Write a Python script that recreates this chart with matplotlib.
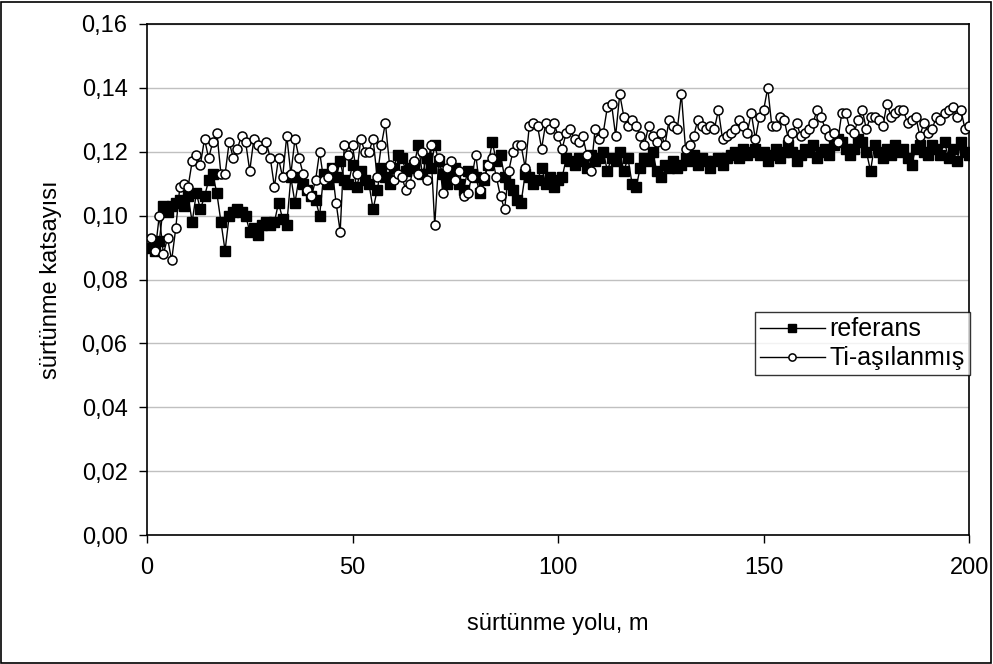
import matplotlib
matplotlib.use("Agg")
import matplotlib.pyplot as plt
from matplotlib.patches import Rectangle
from matplotlib.ticker import FuncFormatter, MultipleLocator

plt.rcParams["font.family"] = ["Liberation Sans", "DejaVu Sans"]

# sliding distance, m
distance = list(range(1, 201))

# friction coefficient, reference sample
referans = [
    0.090, 0.089, 0.092, 0.103, 0.101, 0.103, 0.104, 0.105, 0.103, 0.106,
    0.098, 0.107, 0.102, 0.106, 0.111, 0.113, 0.107, 0.098, 0.089, 0.100,
    0.101, 0.102, 0.101, 0.100, 0.095, 0.096, 0.094, 0.097, 0.098, 0.097,
    0.098, 0.104, 0.099, 0.097, 0.112, 0.104, 0.112, 0.110, 0.108, 0.106,
    0.105, 0.100, 0.113, 0.110, 0.115, 0.112, 0.117, 0.111, 0.110, 0.116,
    0.109, 0.114, 0.111, 0.110, 0.102, 0.108, 0.115, 0.112, 0.110, 0.115,
    0.119, 0.118, 0.114, 0.115, 0.116, 0.122, 0.113, 0.118, 0.115, 0.122,
    0.117, 0.113, 0.110, 0.112, 0.115, 0.110, 0.108, 0.114, 0.113, 0.112,
    0.107, 0.111, 0.116, 0.123, 0.117, 0.119, 0.112, 0.110, 0.108, 0.105,
    0.104, 0.113, 0.112, 0.110, 0.111, 0.115, 0.110, 0.112, 0.109, 0.111,
    0.112, 0.118, 0.117, 0.116, 0.118, 0.117, 0.115, 0.119, 0.117, 0.118,
    0.120, 0.114, 0.118, 0.117, 0.120, 0.114, 0.118, 0.110, 0.109, 0.115,
    0.118, 0.117, 0.120, 0.114, 0.112, 0.116, 0.115, 0.117, 0.115, 0.116,
    0.118, 0.117, 0.119, 0.116, 0.118, 0.117, 0.115, 0.117, 0.118, 0.116,
    0.118, 0.119, 0.120, 0.118, 0.121, 0.119, 0.120, 0.121, 0.119, 0.120,
    0.117, 0.119, 0.121, 0.118, 0.120, 0.122, 0.120, 0.117, 0.119, 0.121,
    0.120, 0.122, 0.118, 0.120, 0.121, 0.119, 0.122, 0.124, 0.123, 0.121,
    0.119, 0.121, 0.124, 0.123, 0.120, 0.114, 0.122, 0.120, 0.118, 0.121,
    0.119, 0.122, 0.120, 0.121, 0.118, 0.116, 0.121, 0.122, 0.120, 0.119,
    0.122, 0.121, 0.119, 0.123, 0.118, 0.121, 0.117, 0.123, 0.120, 0.119,
]

# friction coefficient, Ti-implanted sample
ti_asilanmis = [
    0.093, 0.089, 0.100, 0.088, 0.093, 0.086, 0.096, 0.109, 0.110, 0.109,
    0.117, 0.119, 0.116, 0.124, 0.118, 0.123, 0.126, 0.113, 0.113, 0.123,
    0.118, 0.121, 0.125, 0.123, 0.114, 0.124, 0.122, 0.121, 0.123, 0.118,
    0.109, 0.118, 0.112, 0.125, 0.113, 0.124, 0.118, 0.113, 0.108, 0.106,
    0.111, 0.120, 0.111, 0.112, 0.115, 0.104, 0.095, 0.122, 0.119, 0.122,
    0.113, 0.124, 0.120, 0.120, 0.124, 0.112, 0.122, 0.129, 0.116, 0.111,
    0.113, 0.112, 0.108, 0.110, 0.117, 0.113, 0.120, 0.111, 0.122, 0.097,
    0.118, 0.107, 0.115, 0.117, 0.111, 0.114, 0.106, 0.107, 0.112, 0.119,
    0.108, 0.112, 0.116, 0.118, 0.112, 0.106, 0.102, 0.114, 0.120, 0.122,
    0.122, 0.115, 0.128, 0.129, 0.128, 0.121, 0.129, 0.127, 0.129, 0.125,
    0.121, 0.126, 0.127, 0.124, 0.123, 0.125, 0.119, 0.114, 0.127, 0.124,
    0.126, 0.134, 0.135, 0.125, 0.138, 0.131, 0.128, 0.130, 0.128, 0.125,
    0.122, 0.128, 0.125, 0.123, 0.126, 0.122, 0.130, 0.128, 0.127, 0.138,
    0.121, 0.122, 0.125, 0.130, 0.128, 0.127, 0.128, 0.127, 0.133, 0.124,
    0.125, 0.126, 0.127, 0.130, 0.128, 0.126, 0.132, 0.124, 0.131, 0.133,
    0.140, 0.128, 0.128, 0.131, 0.130, 0.124, 0.126, 0.129, 0.125, 0.126,
    0.127, 0.129, 0.133, 0.131, 0.127, 0.125, 0.126, 0.123, 0.132, 0.132,
    0.127, 0.126, 0.130, 0.133, 0.127, 0.131, 0.131, 0.130, 0.128, 0.135,
    0.131, 0.132, 0.133, 0.133, 0.129, 0.130, 0.131, 0.125, 0.129, 0.126,
    0.127, 0.131, 0.130, 0.132, 0.133, 0.134, 0.131, 0.133, 0.127, 0.128,
]

fig = plt.figure(figsize=(9.93, 6.64), dpi=100)
ax = fig.add_axes([0.148, 0.194, 0.828, 0.770])

ax.plot(distance, referans, color="black", linewidth=1, marker="s",
        markersize=7, markerfacecolor="black", markeredgecolor="black",
        label="referans", zorder=3)
ax.plot(distance, ti_asilanmis, color="black", linewidth=1, marker="o",
        markersize=6.5, markerfacecolor="white", markeredgecolor="black",
        markeredgewidth=1.1, label="Ti-aşılanmış", zorder=4)

ax.set_xlim(0, 200)
ax.set_ylim(0, 0.16)
ax.xaxis.set_major_locator(MultipleLocator(50))
ax.yaxis.set_major_locator(MultipleLocator(0.02))
ax.yaxis.set_major_formatter(FuncFormatter(lambda v, p: f"{v:.2f}".replace(".", ",")))
ax.grid(axis="y", color="#c0c0c0", linewidth=1)
ax.set_axisbelow(True)
for s in ax.spines.values():
    s.set_color("black")
    s.set_linewidth(1.2)
ax.tick_params(direction="out", length=6, width=1, labelsize=17, colors="black")
ax.tick_params(axis="x", pad=10)
ax.tick_params(axis="y", pad=8)

ax.set_xlabel("sürtünme yolu, m", fontsize=17, labelpad=24)
ax.set_ylabel("sürtünme katsayısı", fontsize=17, labelpad=14)

leg = ax.legend(loc="upper right", bbox_to_anchor=(1.001, 0.436),
                fontsize=18, frameon=True, fancybox=False, handlelength=2.6,
                handletextpad=0.2, borderaxespad=0, borderpad=0.2,
                labelspacing=0.2, markerscale=0.8)
leg.get_frame().set_edgecolor("black")
leg.get_frame().set_linewidth(1)

fig.add_artist(Rectangle((0.001, 0.0015), 0.997, 0.996, transform=fig.transFigure,
                         fill=False, edgecolor="black", linewidth=1.2))

fig.savefig("out.png", dpi=100)
